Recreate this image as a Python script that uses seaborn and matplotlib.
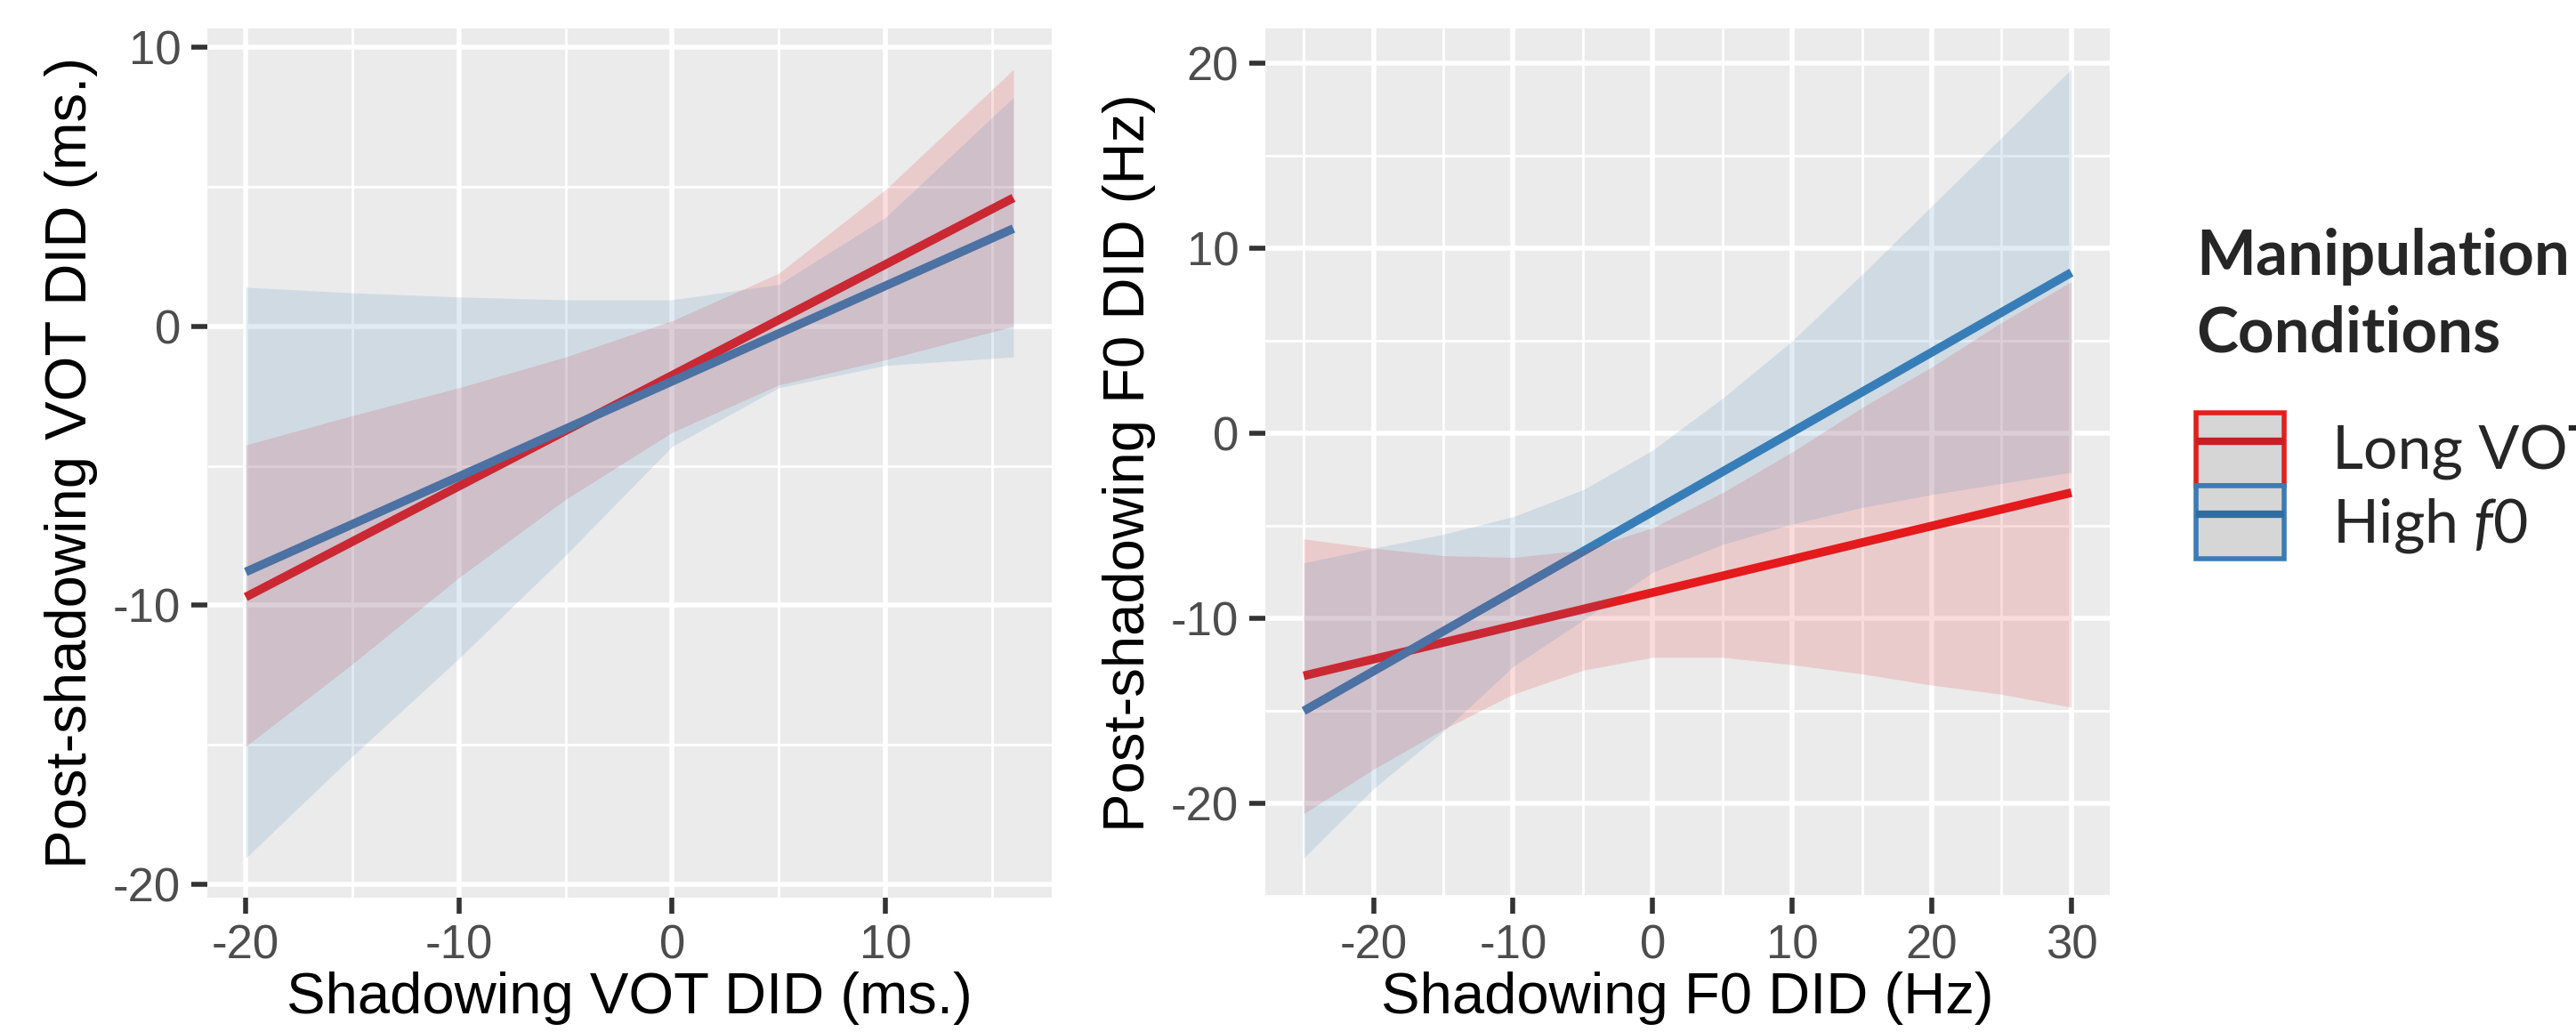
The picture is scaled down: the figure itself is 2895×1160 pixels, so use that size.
import matplotlib
matplotlib.use("Agg")
import matplotlib.pyplot as plt
import matplotlib.patches as mpatches
from matplotlib.lines import Line2D
from matplotlib.legend_handler import HandlerTuple
from matplotlib.ticker import MultipleLocator
import seaborn as sns
import pandas as pd

# ---- data ----
conditions = ["Long VOT", "High f0"]
line_colors = {"Long VOT": "#E41A1C", "High f0": "#377EB8"}

# left panel: VOT
vot_line_x = [-20, 16]
vot_long_line = [-9.7, 4.6]
vot_high_line = [-8.8, 3.5]
vot_band_x = [-20, -15, -10, -5, 0, 5, 10, 16]
vot_long_upper = [-4.25, -3.2, -2.2, -1.1, 0.2, 1.9, 4.9, 9.2]
vot_long_lower = [-15.05, -12.1, -9.0, -6.2, -3.8, -2.1, -1.2, 0.0]
vot_high_upper = [1.4, 1.2, 1.05, 0.95, 0.95, 1.5, 3.9, 8.2]
vot_high_lower = [-19.05, -15.4, -11.9, -8.2, -4.3, -2.2, -1.4, -1.1]

# right panel: F0
f0_line_x = [-25, 30]
f0_long_line = [-13.1, -3.2]
f0_high_line = [-15.0, 8.7]
f0_band_x = [-25, -20, -15, -10, -5, 0, 5, 10, 15, 20, 25, 30]
f0_long_upper = [-5.7, -6.2, -6.6, -6.7, -6.3, -5.1, -3.2, -1.0, 1.4, 3.6, 6.0, 8.2]
f0_long_lower = [-20.55, -18.15, -16.0, -14.1, -12.8, -12.1, -12.1, -12.5, -13.0, -13.6, -14.1, -14.8]
f0_high_upper = [-7.0, -6.2, -5.45, -4.5, -3.05, -0.9, 1.9, 5.0, 8.6, 12.3, 16.0, 19.7]
f0_high_lower = [-22.95, -19.2, -16.1, -12.6, -10.1, -7.5, -6.0, -4.9, -4.0, -3.3, -2.7, -2.1]

# ---- style ----
sns.set_theme(style="darkgrid", rc={
    "axes.facecolor": "#EBEBEB",
    "grid.color": "white",
    "lines.solid_capstyle": "butt",
    "axes.unicode_minus": False,
})
plt.rcParams["font.family"] = ["Liberation Sans", "DejaVu Sans"]
plt.rcParams["mathtext.fontset"] = "custom"
plt.rcParams["mathtext.it"] = "Lato:italic"
plt.rcParams["mathtext.rm"] = "Lato"

fig = plt.figure(figsize=(28.95, 11.6), dpi=100)
ax1 = fig.add_axes([0.0805, 0.1302, 0.3278, 0.8422])
ax2 = fig.add_axes([0.4912, 0.1302, 0.3278, 0.8422])


def draw_panel(ax, line_x, lines, band_x, bands, xlim, ylim, xmaj, ymaj, xlabel, ylabel):
    df = pd.DataFrame({
        "x": line_x * 2,
        "y": lines["Long VOT"] + lines["High f0"],
        "cond": ["Long VOT"] * 2 + ["High f0"] * 2,
    })
    sns.lineplot(data=df, x="x", y="y", hue="cond", hue_order=conditions,
                 palette=line_colors, linewidth=7, legend=False, ax=ax, zorder=2)
    for cond in ["Long VOT", "High f0"]:
        lo, hi = bands[cond]
        ax.fill_between(band_x, lo, hi, color=line_colors[cond], alpha=0.15,
                        linewidth=0, zorder=3)
    ax.set_xlim(*xlim)
    ax.set_ylim(*ylim)
    ax.xaxis.set_major_locator(MultipleLocator(xmaj))
    ax.xaxis.set_minor_locator(MultipleLocator(xmaj / 2))
    ax.yaxis.set_major_locator(MultipleLocator(ymaj))
    ax.yaxis.set_minor_locator(MultipleLocator(ymaj / 2))
    ax.grid(which="major", color="white", linewidth=4)
    ax.grid(which="minor", color="white", linewidth=2)
    ax.set_axisbelow(True)
    for s in ax.spines.values():
        s.set_visible(False)
    ax.tick_params(which="major", length=13, width=4, color="#333333", pad=8.5,
                   labelsize=38, labelcolor="#4D4D4D", bottom=True, left=True)
    ax.tick_params(which="minor", length=0)
    ax.set_xlabel(xlabel, fontsize=47, color="black", labelpad=2)
    ax.set_ylabel(ylabel, fontsize=47, color="black", labelpad=12)


draw_panel(ax1, vot_line_x,
           {"Long VOT": vot_long_line, "High f0": vot_high_line},
           vot_band_x,
           {"Long VOT": (vot_long_lower, vot_long_upper),
            "High f0": (vot_high_lower, vot_high_upper)},
           (-21.8, 17.8), (-20.47, 10.67), 10, 10,
           "Shadowing VOT DID (ms.)", "Post-shadowing VOT DID (ms.)")

draw_panel(ax2, f0_line_x,
           {"Long VOT": f0_long_line, "High f0": f0_high_line},
           f0_band_x,
           {"Long VOT": (f0_long_lower, f0_long_upper),
            "High f0": (f0_high_lower, f0_high_upper)},
           (-27.75, 32.75), (-25.09, 21.89), 10, 10,
           "Shadowing F0 DID (Hz)", "Post-shadowing F0 DID (Hz)")

# ---- legend ----
fig.text(2468 / 2895, 1 - 256 / 1160, "Manipulation\nConditions",
         family="Lato", weight="bold", fontsize=51, va="top", ha="left",
         linespacing=1.4)

handles = []
for cond, edge, inner in [("Long VOT", "#E3201B", "#C81E25"),
                          ("High f0", "#3A7DB5", "#2F6DA0")]:
    box = mpatches.Patch(facecolor="#D6D6D6", edgecolor=edge, linewidth=4)
    ln = Line2D([], [], color=inner, linewidth=6)
    handles.append((box, ln))

fig.legend(handles, ["Long VOT", "High $\\mathit{f0}$"],
           handler_map={tuple: HandlerTuple(ndivide=1, pad=0)},
           loc="upper left", bbox_to_anchor=(2468 / 2895, 1 - 464 / 1160),
           frameon=False, borderpad=0, borderaxespad=0, labelspacing=0,
           handlelength=1.45, handleheight=1.48, handletextpad=0.8,
           prop={"family": "Lato", "size": 49})

fig.savefig("out.png", dpi=100, facecolor="white")
